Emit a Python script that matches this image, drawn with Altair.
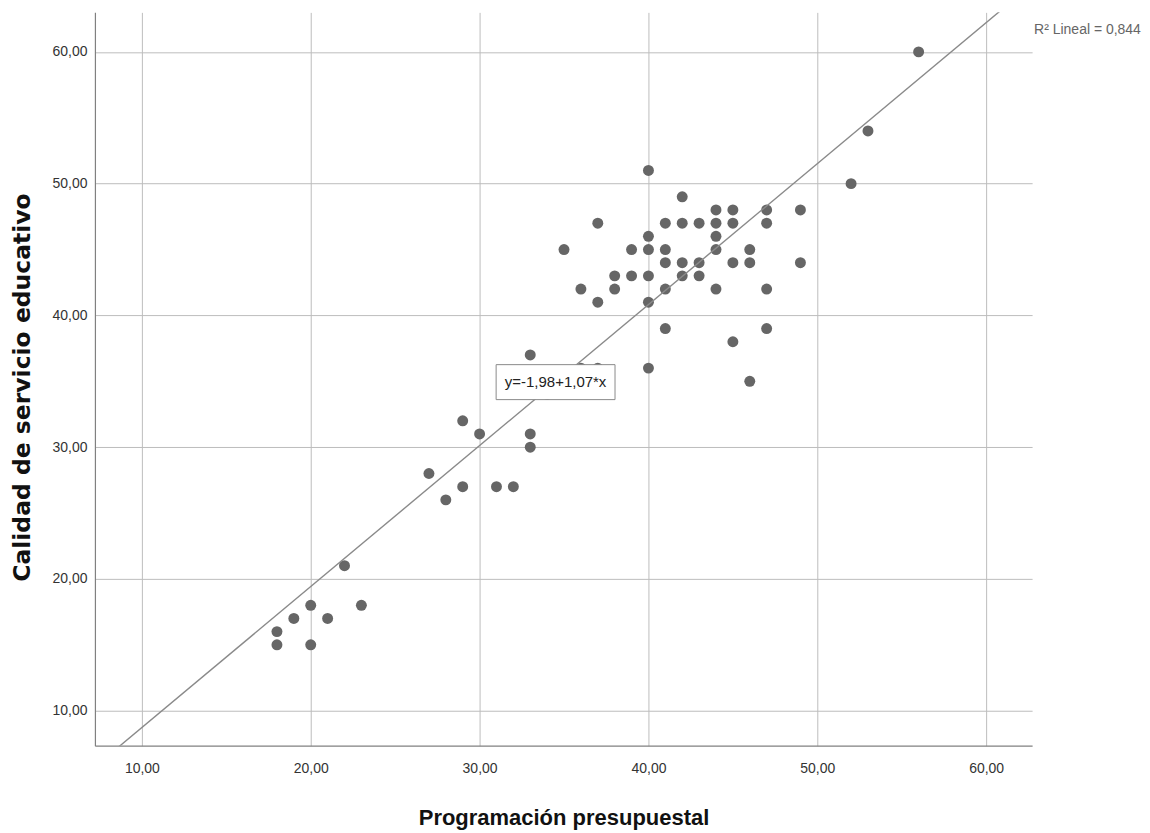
import altair as alt
import pandas as pd

# Data
prog = [40, 42, 44, 45, 47, 49,
        37, 41, 42, 43, 44, 45, 47,
        40, 44,
        35, 39, 40, 41, 44, 46,
        41, 42, 43, 45, 46, 49,
        38, 39, 40, 42, 43,
        36, 38, 41, 44, 47,
        37, 40,
        41, 47,
        45,
        33,
        36, 37, 40,
        46,
        34,
        29,
        30, 33,
        33,
        27,
        29, 31, 32,
        28,
        22,
        20, 23,
        19, 21,
        18,
        18, 20,
        52, 53, 56]
calidad = [51, 49, 48, 48, 48, 48,
           47, 47, 47, 47, 47, 47, 47,
           46, 46,
           45, 45, 45, 45, 45, 45,
           44, 44, 44, 44, 44, 44,
           43, 43, 43, 43, 43,
           42, 42, 42, 42, 42,
           41, 41,
           39, 39,
           38,
           37,
           36, 36, 36,
           35,
           34,
           32,
           31, 31,
           30,
           28,
           27, 27, 27,
           26,
           21,
           18, 18,
           17, 17,
           16,
           15, 15,
           50, 54, 60]
intercept = -1.98
slope = 1.07
r2_text = "R² Lineal = 0,844"
eq_text = "y=-1,98+1,07*x"
eq_label_x = 34.5

x_domain = [7.22, 62.72]
y_domain = [7.34, 63.0]
ticks = [10, 20, 30, 40, 50, 60]

df = pd.DataFrame({"x": prog, "y": calidad})
line_df = pd.DataFrame({"x": x_domain,
                        "y": [intercept + slope * v for v in x_domain]})
lab_df = pd.DataFrame({"x": [eq_label_x],
                       "y": [intercept + slope * eq_label_x],
                       "t": [eq_text]})
r2_df = pd.DataFrame({"t": [r2_text]})

fmt = "replace(format(datum.value, '.2f'), '.', ',')"
xs = alt.Scale(domain=x_domain, nice=False, zero=False)
ys = alt.Scale(domain=y_domain, nice=False, zero=False)

x_axis = alt.Axis(values=ticks, labelExpr=fmt, title="Programación presupuestal",
                  grid=True, gridColor="#bdbdbd", gridWidth=1,
                  domainColor="#808080", domainWidth=1.2,
                  ticks=False, tickSize=0, labelPadding=16,
                  labelFont="Liberation Sans", labelFontSize=14, labelColor="#333333",
                  titleFont="Liberation Sans", titleFontSize=22, titleFontWeight="bold",
                  titleColor="#111111", titlePadding=32)
y_axis = alt.Axis(values=ticks, labelExpr=fmt, title="Calidad de servicio educativo",
                  grid=True, gridColor="#bdbdbd", gridWidth=1,
                  domainColor="#808080", domainWidth=1.2,
                  ticks=False, tickSize=0, labelPadding=8,
                  labelFont="Liberation Sans", labelFontSize=14, labelColor="#333333",
                  titleFont="DejaVu Sans", titleFontSize=23.5, titleFontWeight="bold",
                  titleColor="#111111", titlePadding=17, titleY=375)

base_pts = alt.Chart(df).mark_circle(size=120, color="#666666", opacity=1).encode(
    x=alt.X("x:Q", scale=xs, axis=x_axis),
    y=alt.Y("y:Q", scale=ys, axis=y_axis),
)

fit = alt.Chart(line_df).mark_line(color="#8a8a8a", strokeWidth=1.4, clip=True).encode(
    x=alt.X("x:Q", scale=xs), y=alt.Y("y:Q", scale=ys))

box = alt.Chart(lab_df).mark_rect(width=119, height=35, fill="white",
                                  stroke="#8a8a8a", strokeWidth=1).encode(
    x=alt.X("x:Q", scale=xs), y=alt.Y("y:Q", scale=ys))

eq = alt.Chart(lab_df).mark_text(font="Liberation Sans", fontSize=15,
                                 color="#222222", align="center", baseline="middle").encode(
    x=alt.X("x:Q", scale=xs), y=alt.Y("y:Q", scale=ys), text="t:N")

r2 = alt.Chart(r2_df).mark_text(font="Liberation Sans", fontSize=14,
                                color="#666666", align="left", baseline="middle").encode(
    x=alt.value(940), y=alt.value(18), text="t:N")

chart = alt.layer(base_pts, fit, box, eq, r2).properties(
    width=938, height=734,
    autosize=alt.AutoSizeParams(type="none"),
    padding={"left": 87, "top": 4, "right": 110, "bottom": 87},
).configure_view(stroke=None)

chart.save("out.html", embed_options={"renderer": "svg", "actions": False})
